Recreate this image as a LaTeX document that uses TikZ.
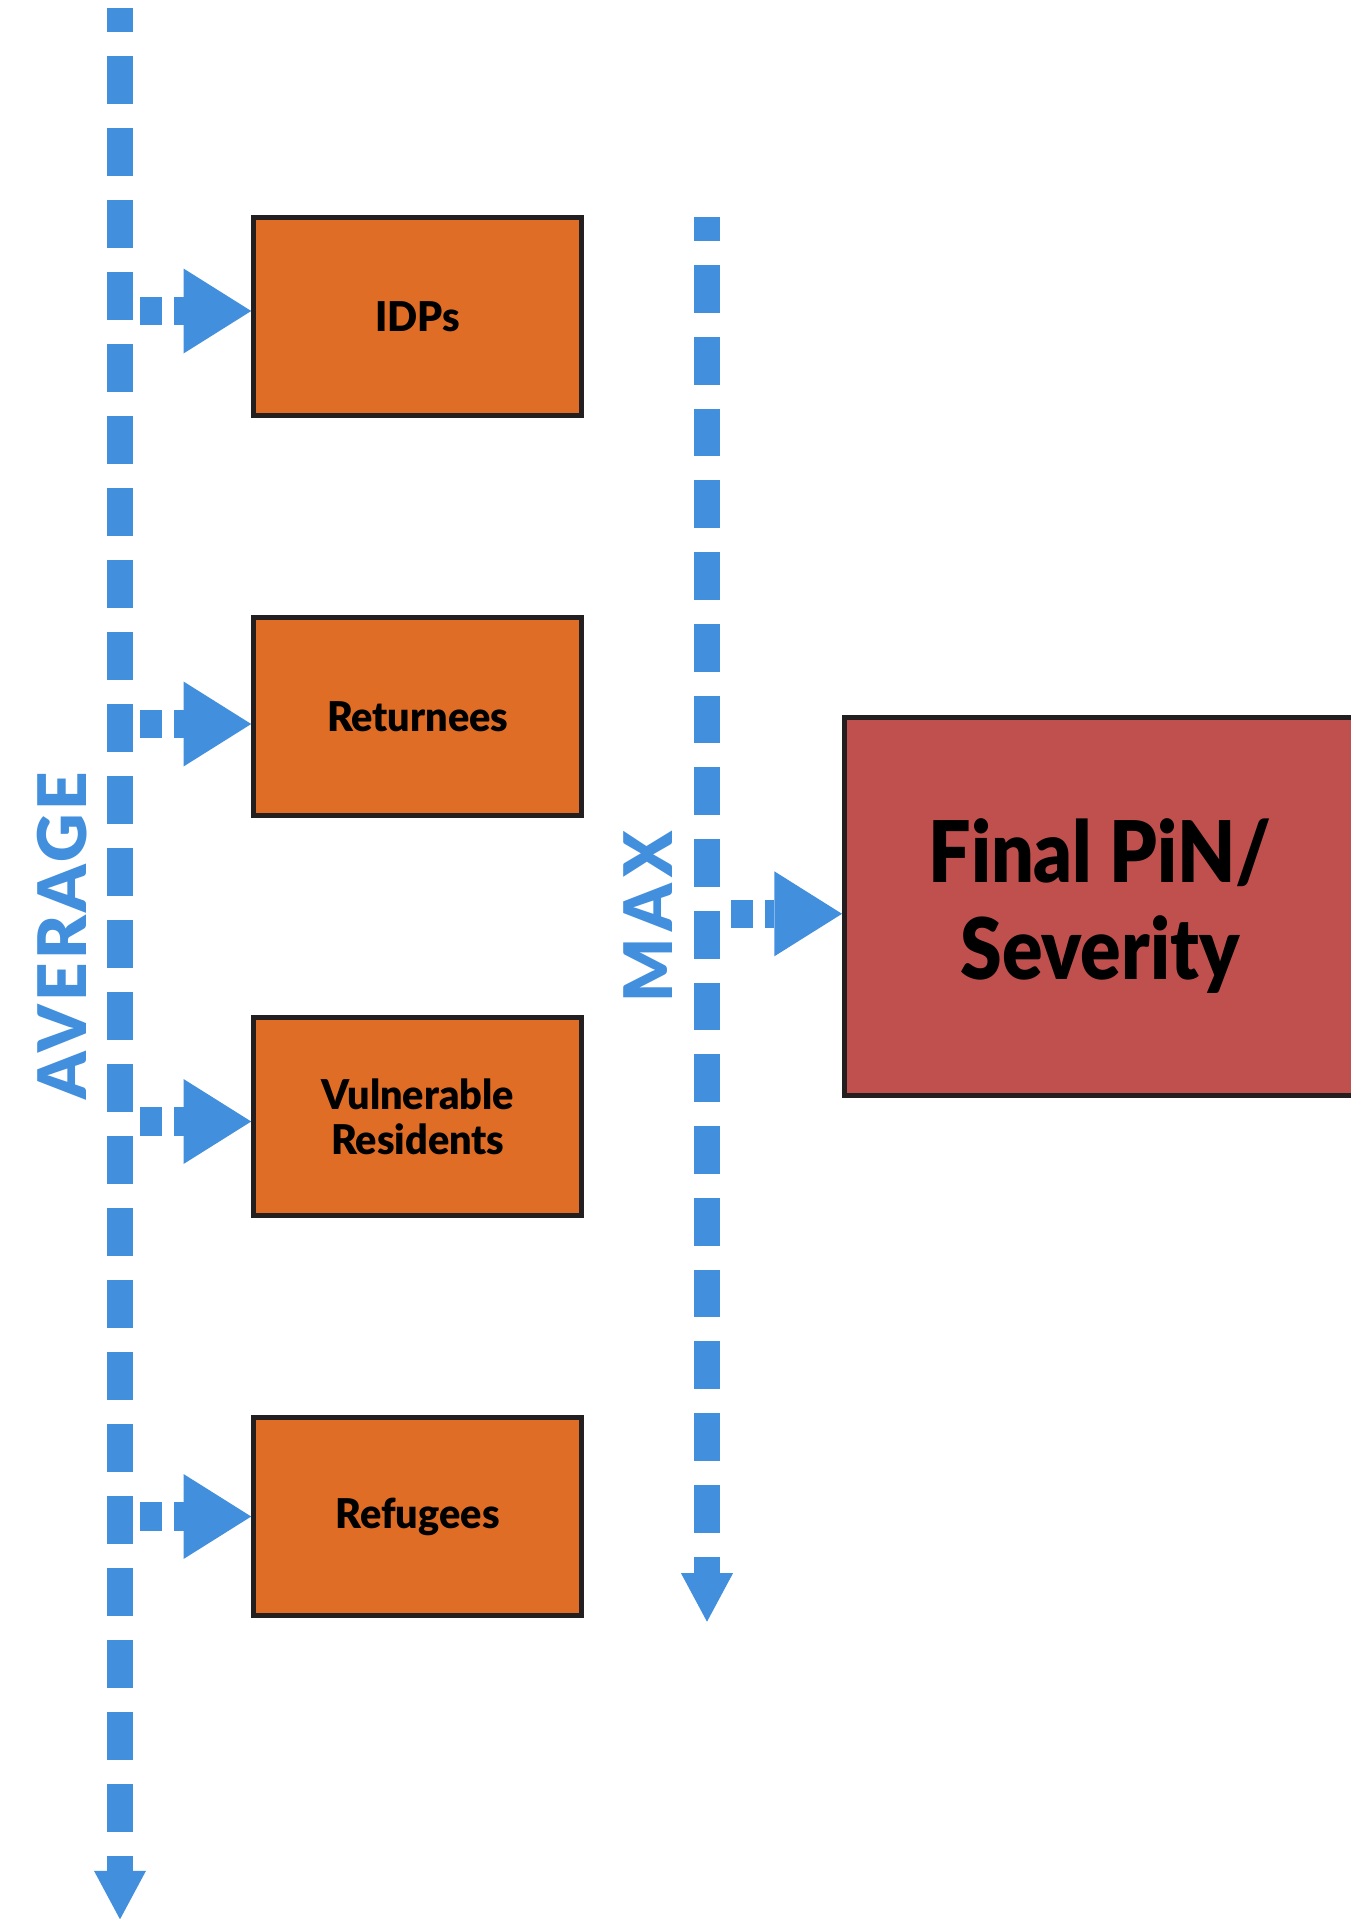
\documentclass[tikz,border=0pt]{standalone}
\usepackage{fontspec}
\setmainfont{Lato}
\newfontfamily\boxfont{Lato Black}[FakeStretch=0.965]
\newfontfamily\finalfont{Lato Black}[FakeStretch=0.885]
\newfontfamily\avgfont{Lato Black}[LetterSpace=5]
\newfontfamily\maxfont{Lato Black}[LetterSpace=10]
\usetikzlibrary{arrows.meta}
\definecolor{flowblue}{HTML}{428FDE}
\definecolor{boxorange}{HTML}{E06D26}
\definecolor{boxred}{HTML}{C0504E}
\definecolor{boxline}{HTML}{231F20}
\begin{document}
\begin{tikzpicture}[x=1pt,y=-1pt,
  popbox/.style={draw=boxline, line width=5pt, fill=boxorange, minimum width=328pt, minimum height=198pt, inner sep=0pt, align=center, font=\boxfont\fontsize{41}{45}\selectfont},
  finalbox/.style={draw=boxline, line width=5pt, fill=boxred, minimum width=511pt, minimum height=378pt, inner sep=0pt, align=center, font=\finalfont\fontsize{85}{97}\selectfont},
  vflow/.style={draw=flowblue, line width=26.5pt, dash pattern=on 48pt off 24pt, -{Triangle[length=48.5pt,width=52pt,line width=0pt]}},
  hflow/.style={draw=flowblue, line width=28.5pt, dash pattern=on 22pt off 12pt, -{Triangle[length=67.7pt,width=85pt,line width=0pt]}},
  flowlabel/.style={text=flowblue, rotate=90, anchor=base, inner sep=0pt}
]
\useasboundingbox (0,0) rectangle (1351,1919);
\fill[white] (0,0) rectangle (1351,1919);

% boxes
\node[popbox] (idp) at (417.7,316.6) {IDPs};
\node[popbox] (ret) at (417.7,716.6) {Returnees};
\node[popbox] (vul) at (417.7,1116.6) {Vulnerable\\Residents};
\node[popbox] (ref) at (417.7,1516.6) {Refugees};
\node[finalbox] (fin) at (1100,906.5) {Final PiN/\\Severity};

% vertical flows
\coordinate (avgtop) at (120,8.3);
\coordinate (avgend) at (120,1919.3);
\draw[vflow, dash phase=24pt] (avgtop) -- (avgend);
\coordinate (maxtop) at (707,217.3);
\coordinate (maxend) at (707,1621.7);
\draw[vflow, dash pattern=on 47.75pt off 24pt, dash phase=24.05pt] (maxtop) -- (maxend);

% horizontal flows
\coordinate (s1) at (140,311);
\coordinate (s2) at (140,724);
\coordinate (s3) at (140,1121.5);
\coordinate (s4) at (140,1516.5);
\coordinate (s5) at (731,913.8);
\draw[hflow] (s1) -- (s1 -| idp.west);
\draw[hflow] (s2) -- (s2 -| ret.west);
\draw[hflow] (s3) -- (s3 -| vul.west);
\draw[hflow] (s4) -- (s4 -| ref.west);
\draw[hflow] (s5) -- (s5 -| fin.west);

% labels
\node[flowlabel, font=\avgfont\fontsize{67}{67}\selectfont] (avg) at (86,935.9) {AVERAGE};
\node[flowlabel, font=\maxfont\fontsize{67}{67}\selectfont] (maxl) at (672.7,917) {MAX};
\end{tikzpicture}
\end{document}
